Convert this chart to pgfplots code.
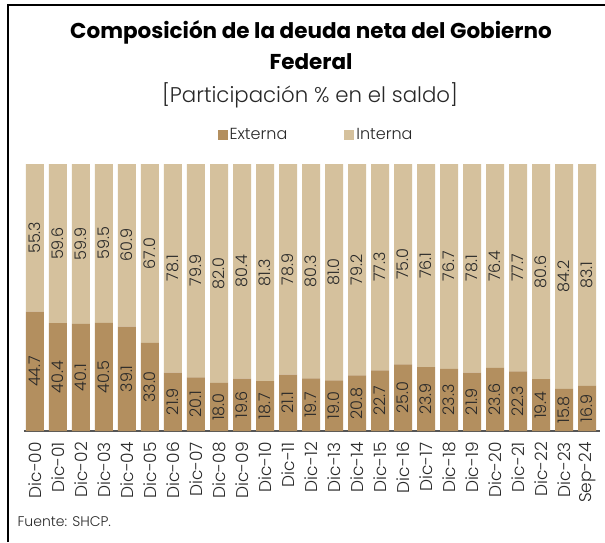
\documentclass[border=0pt]{standalone}
\usepackage{fontspec}
\setmainfont{Poppins}
\newfontfamily\lightfont{Poppins Light}
\usepackage{pgfplots}
\usepackage{pgfplotstable}
\pgfplotsset{compat=1.18}
\definecolor{ext}{RGB}{179,143,95}
\definecolor{inte}{RGB}{213,193,157}
\definecolor{txt}{RGB}{40,40,40}
\definecolor{axl}{RGB}{85,85,85}

\pgfplotstableread{
x ext int
0 44.7 55.3
1 40.4 59.6
2 40.1 59.9
3 40.5 59.5
4 39.1 60.9
5 33.0 67.0
6 21.9 78.1
7 20.1 79.9
8 18.0 82.0
9 19.6 80.4
10 18.7 81.3
11 21.1 78.9
12 19.7 80.3
13 19.0 81.0
14 20.8 79.2
15 22.7 77.3
16 25.0 75.0
17 23.9 76.1
18 23.3 76.7
19 21.9 78.1
20 23.6 76.4
21 22.3 77.7
22 19.4 80.6
23 15.8 84.2
24 16.9 83.1
}\data

\pgfplotsset{myaxis/.style={scale only axis, width=576pt, height=267pt,
  xmin=-0.478, xmax=24.565, ymin=0, ymax=100,
  at={(24pt,-431pt)}, anchor=south west}}

\begin{document}
\begin{tikzpicture}
\useasboundingbox (0,0) rectangle (605pt,-542pt);
\fill[white] (0,0) rectangle (605pt,-542pt);
\draw[line width=1.6pt, black] (8pt,-542pt) -- (8pt,-5pt) -- (605pt,-5pt);

\node[font=\bfseries\fontsize{21.5}{24}\selectfont, text=black] at (311pt,-32pt) {Composición de la deuda neta del Gobierno};
\node[font=\bfseries\fontsize{21.5}{24}\selectfont, text=black] at (311pt,-62pt) {Federal};
\node[font=\lightfont\fontsize{21.3}{24}\selectfont, text=txt] at (310pt,-95pt) {[Participación \% en el saldo]};
\node[font=\lightfont\fontsize{14}{16}\selectfont, text=txt, anchor=west] at (14pt,-522pt) {Fuente: SHCP.};

\begin{axis}[myaxis,
  ybar stacked, bar width=18pt,
  axis x line=bottom, axis y line=none,
  x axis line style={-, draw=axl, line width=2pt},
  xtick=data, major tick length=0pt, xtick style={draw=none},
  xticklabels={Dic-00,Dic-01,Dic-02,Dic-03,Dic-04,Dic-05,Dic-06,Dic-07,Dic-08,Dic-09,Dic-10,Dic-11,Dic-12,Dic-13,Dic-14,Dic-15,Dic-16,Dic-17,Dic-18,Dic-19,Dic-20,Dic-21,Dic-22,Dic-23,Sep-24},
  xticklabel style={rotate=90, anchor=east, inner sep=0pt, font=\lightfont\fontsize{17}{17}\selectfont, text=txt},
  xticklabel shift=11pt,
  legend style={at={(0.507,1.109)}, anchor=center, draw=none, fill=none,
    legend columns=2, font=\lightfont\fontsize{16}{16}\selectfont, text=txt,
    /tikz/every even column/.append style={column sep=55pt}},
  legend cell align=left,
]
\addplot[fill=ext, draw=none, legend image code/.code={\fill[ext] (0pt,-5pt) rectangle (10pt,5pt);}] table[x=x,y=ext] {\data};
\addlegendentry{Externa}
\addplot[fill=inte, draw=none, legend image code/.code={\fill[inte] (0pt,-5pt) rectangle (10pt,5pt);}] table[x=x,y=int] {\data};
\addlegendentry{Interna}
\end{axis}

\begin{axis}[myaxis, hide axis]
\addplot[only marks, mark=none, nodes near coords, point meta=explicit symbolic,
  nodes near coords align={center},
  every node near coord/.append style={rotate=90, anchor=center, font=\lightfont\fontsize{16}{16}\selectfont, text=txt}]
  table[x=x, y expr=\thisrow{ext}/2, meta=ext] {\data};
\addplot[only marks, mark=none, nodes near coords, point meta=explicit symbolic,
  nodes near coords align={center},
  every node near coord/.append style={rotate=90, anchor=center, font=\lightfont\fontsize{16}{16}\selectfont, text=txt}]
  table[x=x, y expr=\thisrow{ext}+\thisrow{int}/2, meta=int] {\data};
\end{axis}
\end{tikzpicture}
\end{document}
